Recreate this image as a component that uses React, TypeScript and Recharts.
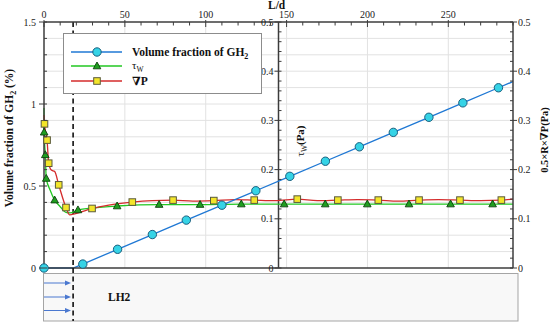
import React from "react";
import { LineChart, Line, XAxis, YAxis, CartesianGrid, ReferenceLine, Legend } from "recharts";

const W = 550;
const H = 326;
const LEFT_W = 44;
const RIGHT_W = 36;
const MID_W = 1;
const TOP_H = 22;
const BOTTOM_GAP = 58;
const PLOT_W = W - LEFT_W - RIGHT_W - MID_W;

const X_MAX = 290;
const MID_LD = 145; // position of the tau_W axis
const INLET_LD = 18; // dashed line

const SERIF = "'Liberation Serif', 'DejaVu Serif', serif";
const AXIS_C = "#3c3c3c";
const GRID_C = "#e2e2e2";

// volume fraction of GH2 (%) - left axis
const gh2Ld = [0, 18, 24, 45.5, 67, 88, 110, 131, 152, 174, 195, 216, 238, 259, 281, 290];
const gh2Frac = [0, 0, 0.024, 0.114, 0.204, 0.292, 0.383, 0.471, 0.559, 0.651, 0.739, 0.827, 0.919, 1.007, 1.099, 1.137];
const gh2Mark = [1, 0, 1, 1, 1, 1, 1, 1, 1, 1, 1, 1, 1, 1, 1, 0];

// tau_W (Pa) - middle axis
const tauLd = [0, 0.1, 0.8, 1.4, 3.7, 6.6, 9.9, 13.6, 16, 21, 30, 45.2, 71.2, 96.5, 122, 148.5, 173.9, 199.9, 225.7, 251.4, 277.4, 290];
const tauVal = [0.325, 0.276, 0.23, 0.182, 0.159, 0.138, 0.125, 0.113, 0.112, 0.118, 0.122, 0.126, 0.129, 0.129, 0.13, 0.13, 0.13, 0.13, 0.13, 0.13, 0.13, 0.13];
const tauMark = [0, 1, 1, 1, 0, 1, 0, 0, 0, 1, 0, 1, 1, 1, 1, 1, 1, 1, 1, 1, 1, 0];

// 0.5 x R x grad P (Pa) - right axis
const dpLd = [0, 0.3, 1.9, 2.9, 4.5, 6.6, 9.1, 13.6, 15.9, 19, 23, 29.7, 40, 54.6, 67, 79.8, 92, 105, 118, 130, 143, 156.6, 169, 181.7, 194, 206.7, 219, 231.9, 244, 257.2, 270, 282.8, 290];
const dpVal = [0.311, 0.293, 0.26, 0.213, 0.199, 0.196, 0.169, 0.123, 0.108, 0.11, 0.114, 0.121, 0.128, 0.134, 0.137, 0.138, 0.136, 0.137, 0.139, 0.138, 0.137, 0.14, 0.137, 0.138, 0.139, 0.138, 0.136, 0.138, 0.139, 0.138, 0.137, 0.138, 0.14];
const dpMark = [0, 1, 1, 1, 0, 0, 1, 1, 0, 0, 0, 1, 0, 1, 0, 1, 0, 1, 0, 1, 0, 1, 0, 1, 0, 1, 0, 1, 0, 1, 0, 1, 0];

const ldTicks = Array.from({ length: 30 }, (_, i) => i * 10);
const ldGrid = [50, 100, 150, 200, 250];
const leftTicks = Array.from({ length: 16 }, (_, i) => +(i * 0.1).toFixed(1));
const rightTicks = Array.from({ length: 26 }, (_, i) => +(i * 0.02).toFixed(2));

const gh2Data = gh2Ld.map((ld, i) => ({ ld, v: gh2Frac[i], m: gh2Mark[i] }));
const tauData = tauLd.map((ld, i) => ({ ld, v: tauVal[i], m: tauMark[i] }));
const dpData = dpLd.map((ld, i) => ({ ld, v: dpVal[i], m: dpMark[i] }));

const BLUE = "#1f78d4";
const GREEN = "#22c722";
const RED = "#d42b2b";

const circle = (cx: number, cy: number, k?: any) => (
  <circle key={k} cx={cx} cy={cy} r={4.2} fill="#35d3e6" stroke="#1a5f7e" strokeWidth={1} />
);
const triangle = (cx: number, cy: number, k?: any) => (
  <polygon key={k} points={`${cx},${cy - 4} ${cx - 3.8},${cy + 2.8} ${cx + 3.8},${cy + 2.8}`} fill="#1f9e1f" stroke="#0d3f0d" strokeWidth={0.9} />
);
const square = (cx: number, cy: number, k?: any) => (
  <rect key={k} x={cx - 3.3} y={cy - 3.3} width={6.6} height={6.6} fill="#f3e52a" stroke="#5a5a3c" strokeWidth={1} />
);

const makeDot = (draw: typeof circle) => (p: any) => {
  if (!p.payload || !p.payload.m) return <g key={p.key ?? p.index} />;
  return draw(p.cx, p.cy, p.key ?? p.index);
};

const isMult = (v: number, step: number) => Math.abs(v / step - Math.round(v / step)) < 1e-6;
const fmt = (v: number) => String(+v.toFixed(2));

const TopTick = (p: any) => {
  const { x, y, payload } = p;
  const major = isMult(payload.value, 50);
  return (
    <g>
      <line x1={x} x2={x} y1={major ? y - 2 : y} y2={y + (major ? 5 : 3.5)} stroke={AXIS_C} />
      {major && (
        <text x={x} y={y - 4} textAnchor="middle" fontSize={10} fontFamily={SERIF} fill="#222">
          {payload.value}
        </text>
      )}
    </g>
  );
};

const LeftTick = (p: any) => {
  const { x, y, payload } = p;
  const major = isMult(payload.value, 0.5);
  return (
    <g>
      <line x1={major ? x - 5 : x} x2={x + 3} y1={y} y2={y} stroke={AXIS_C} />
      {major && (
        <text x={x - 8} y={y + 3.5} textAnchor="end" fontSize={10} fontFamily={SERIF} fill="#222">
          {fmt(payload.value)}
        </text>
      )}
    </g>
  );
};

const RightTick = (p: any) => {
  const { x, y, payload } = p;
  const major = isMult(payload.value, 0.1);
  return (
    <g>
      <line x1={x - 3} x2={major ? x + 4 : x} y1={y} y2={y} stroke={AXIS_C} />
      {major && (
        <text x={x + 5} y={y + 3.5} textAnchor="start" fontSize={10} fontFamily={SERIF} fill="#222">
          {fmt(payload.value)}
        </text>
      )}
    </g>
  );
};

// the tau axis is drawn inside the plot at L/d = MID_LD
const MID_X = LEFT_W + (PLOT_W * MID_LD) / X_MAX;
const MidTick = (p: any) => {
  const { y, payload } = p;
  const x = MID_X;
  const major = isMult(payload.value, 0.1);
  return (
    <g>
      <line x1={major ? x - 4 : x} x2={x + 3} y1={y} y2={y} stroke={AXIS_C} />
      {major && (
        <text x={x - 5} y={y + 3.5} textAnchor="end" fontSize={10} fontFamily={SERIF} fill="#222">
          {fmt(payload.value)}
        </text>
      )}
    </g>
  );
};

const LegendBox = () => {
  const rows = [
    { y: 19, color: BLUE, draw: circle },
    { y: 33, color: GREEN, draw: triangle },
    { y: 48, color: RED, draw: square },
  ];
  return (
    <svg width={199} height={61} style={{ display: "block" }}>
      <rect x={0.5} y={0.5} width={198} height={60} fill="#fff" stroke="#8c8c8c" />
      {rows.map((r, i) => (
        <g key={i}>
          <line x1={8} x2={59} y1={r.y} y2={r.y} stroke={r.color} strokeWidth={1.4} />
          {r.draw(34, r.y)}
        </g>
      ))}
      <text x={69} y={23} fontFamily={SERIF} fontSize={11.5} fontWeight="bold" fill="#111">
        Volume fraction of GH<tspan dy={3} fontSize={8}>2</tspan>
      </text>
      <text x={69} y={36} fontFamily={SERIF} fontSize={11} fill="#111">
        τ<tspan dy={3} fontSize={7.5}>W</tspan>
      </text>
      <text x={69} y={52} fontFamily={SERIF} fontSize={11.5} fontWeight="bold" fill="#111">
        ∇P
      </text>
    </svg>
  );
};

export default function App() {
  const plotBottom = H - BOTTOM_GAP;
  const inletX = LEFT_W + (INLET_LD * PLOT_W) / X_MAX;
  const arrowsY = [283, 297, 310.5];
  return (
    <div style={{ position: "absolute", left: 0, top: 0, width: W, height: H, background: "#fff" }}>
      <LineChart width={W} height={H} margin={{ top: 0, right: 0, bottom: BOTTOM_GAP - 1, left: 0 }}>
        <CartesianGrid
          xAxisId="top"
          yAxisId="left"
          stroke={GRID_C}
          verticalValues={ldGrid}
          horizontalValues={leftTicks.filter((v) => v > 0 && v < 1.5)}
        />
        <XAxis
          xAxisId="top"
          orientation="top"
          type="number"
          dataKey="ld"
          domain={[0, X_MAX]}
          ticks={ldTicks}
          interval={0}
          height={TOP_H}
          tickSize={0}
          tickMargin={0}
          tickLine={false}
          tick={TopTick}
          axisLine={{ stroke: AXIS_C, strokeWidth: 1.5 }}
        />
        <XAxis
          xAxisId="bottom"
          orientation="bottom"
          type="number"
          dataKey="ld"
          domain={[0, X_MAX]}
          height={1}
          tick={false}
          tickLine={false}
          axisLine={{ stroke: AXIS_C, strokeWidth: 1.5 }}
        />
        <YAxis
          yAxisId="left"
          orientation="left"
          type="number"
          domain={[0, 1.5]}
          ticks={leftTicks}
          interval={0}
          width={LEFT_W}
          tickSize={0}
          tickMargin={0}
          tickLine={false}
          tick={LeftTick}
          axisLine={{ stroke: AXIS_C, strokeWidth: 1.5 }}
        />
        <YAxis
          yAxisId="tau"
          orientation="right"
          type="number"
          domain={[0, 0.5]}
          ticks={rightTicks}
          interval={0}
          width={MID_W}
          tickSize={0}
          tickMargin={0}
          tickLine={false}
          tick={MidTick}
          axisLine={false}
        />
        <YAxis
          yAxisId="right"
          orientation="right"
          type="number"
          domain={[0, 0.5]}
          ticks={rightTicks}
          interval={0}
          width={RIGHT_W}
          tickSize={0}
          tickMargin={0}
          tickLine={false}
          tick={RightTick}
          axisLine={{ stroke: AXIS_C, strokeWidth: 1.5 }}
        />
        <ReferenceLine xAxisId="top" yAxisId="left" x={MID_LD} stroke={AXIS_C} strokeWidth={1.5} />
        <ReferenceLine xAxisId="top" yAxisId="left" x={INLET_LD} stroke="#111" strokeWidth={1.6} strokeDasharray="5 3.5" />
        <Line
          xAxisId="top"
          yAxisId="tau"
          data={tauData}
          dataKey="v"
          name="τW"
          type="monotone"
          stroke={GREEN}
          strokeWidth={1.3}
          dot={makeDot(triangle)}
          activeDot={false}
          isAnimationActive={false}
        />
        <Line
          xAxisId="top"
          yAxisId="right"
          data={dpData}
          dataKey="v"
          name="∇P"
          type="monotone"
          stroke={RED}
          strokeWidth={1.3}
          dot={makeDot(square)}
          activeDot={false}
          isAnimationActive={false}
        />
        <Line
          xAxisId="top"
          yAxisId="left"
          data={gh2Data}
          dataKey="v"
          name="Volume fraction of GH2"
          type="linear"
          stroke={BLUE}
          strokeWidth={1.3}
          dot={makeDot(circle)}
          activeDot={false}
          isAnimationActive={false}
        />
        <Legend
          layout="horizontal"
          verticalAlign="middle"
          align="center"
          content={<LegendBox />}
          wrapperStyle={{ left: 63, top: 33, width: 199, height: 61 }}
        />
      </LineChart>
      <svg
        width={W}
        height={H}
        style={{ position: "absolute", left: 0, top: 0, pointerEvents: "none" }}
        fontFamily={SERIF}
      >
        <text x={268} y={8.5} fontSize={11.5} fontWeight="bold" fill="#111">
          L/d
        </text>
        <text transform="translate(13,138) rotate(-90)" textAnchor="middle" fontSize={11.5} fontWeight="bold" fill="#111">
          Volume fraction of GH<tspan dy={3} fontSize={8}>2</tspan>
          <tspan dy={-3}> (%)</tspan>
        </text>
        <text transform="translate(304,141) rotate(-90)" textAnchor="middle" fontSize={11} fill="#111">
          τ<tspan dy={3} fontSize={7.5}>W</tspan>
          <tspan dy={-3} fontWeight="bold">(Pa)</tspan>
        </text>
        <text transform="translate(548,140) rotate(-90)" textAnchor="middle" fontSize={10.5} fontWeight="bold" fill="#111">
          0.5×R×∇P(Pa)
        </text>
        <rect x={43.5} y={273.5} width={474.5} height={47.5} fill="#f8f8f8" stroke="#a5a5a5" />
        {arrowsY.map((y) => (
          <g key={y}>
            <line x1={44} x2={66} y1={y} y2={y} stroke="#4a78d0" strokeWidth={1} />
            <polygon points={`${65},${y - 2.5} ${71},${y} ${65},${y + 2.5}`} fill="#4a78d0" />
          </g>
        ))}
        <line x1={inletX} x2={inletX} y1={plotBottom} y2={321} stroke="#111" strokeWidth={1.6} strokeDasharray="5 3.5" />
        <text x={108} y={301} fontSize={11.5} fontWeight="bold" fill="#111">
          LH2
        </text>
      </svg>
    </div>
  );
}
